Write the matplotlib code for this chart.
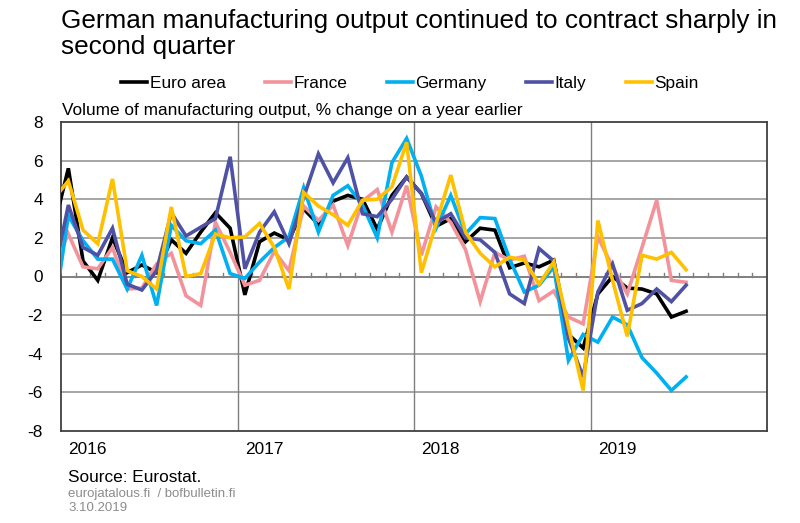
import matplotlib
matplotlib.use("Agg")
import matplotlib.pyplot as plt
import numpy as np
import pandas as pd

plt.rcParams['font.family'] = ['Liberation Sans', 'DejaVu Sans']

# Monthly data, Dec 2015 .. Jul 2019 (first point is clipped by the axis)
months = pd.period_range('2015-12', '2019-07', freq='M')

euro_area = [2.5,
             5.6, 0.8, -0.2, 2.0, 0.2, 0.6, 0.2, 1.9, 1.2, 2.3, 3.3, 2.5,
             -0.95, 1.8, 2.25, 1.9, 3.5, 2.7, 3.9, 4.2, 4.0, 2.45, 4.2, 5.15,
             4.3, 2.6, 3.0, 1.8, 2.5, 2.4, 0.45, 0.7, 0.5, 0.85, -3.0, -3.7,
             -0.9, 0.0, -0.6, -0.65, -0.9, -2.1, -1.8]
france = [0.5,
          2.2, 0.5, 0.4, 1.5, -0.65, -0.6, 0.65, 1.2, -1.0, -1.5, 2.8, 1.25,
          -0.45, -0.2, 1.3, 0.3, 3.65, 2.9, 3.7, 1.6, 3.9, 4.5, 2.3, 4.7,
          1.1, 3.6, 2.8, 1.4, -1.3, 1.25, 0.85, 1.05, -1.25, -0.75, -2.1, -2.45,
          2.05, 0.5, -0.9, 1.5, 3.95, -0.2, -0.3]
germany = [-2.0,
           3.15, 1.85, 0.9, 0.9, -0.65, 1.1, -1.5, 2.65, 1.85, 1.7, 2.4, 0.15,
           -0.1, 0.75, 1.5, 2.05, 4.6, 2.3, 4.2, 4.7, 3.7, 2.0, 5.9, 7.15,
           5.2, 2.5, 4.2, 2.2, 3.05, 3.0, 0.9, -0.8, -0.45, 0.5, -4.35, -3.0,
           -3.4, -2.1, -2.5, -4.2, -5.0, -5.9, -5.2]
italy = [0.0,
         3.7, 1.5, 1.1, 2.5, -0.4, -0.7, 0.3, 3.3, 2.1, 2.55, 3.0, 6.2,
         0.4, 2.3, 3.35, 1.7, 4.1, 6.35, 4.85, 6.15, 3.25, 3.1, 4.0, 5.15,
         4.3, 2.8, 3.25, 2.0, 1.9, 1.25, -0.9, -1.4, 1.45, 0.8, -3.2, -5.2,
         -0.8, 0.65, -1.75, -1.4, -0.65, -1.3, -0.45]
spain = [4.0,
         4.95, 2.4, 1.7, 5.05, 0.3, 0.0, -0.65, 3.6, 0.0, 0.15, 2.2, 2.0,
         2.05, 2.75, 1.5, -0.65, 4.35, 3.65, 3.2, 2.65, 3.95, 4.0, 4.65, 6.95,
         0.2, 2.75, 5.25, 2.3, 1.2, 0.5, 1.0, 0.85, -0.4, 0.75, -2.6, -5.9,
         2.9, -0.2, -3.1, 1.1, 0.9, 1.25, 0.35]

series_names = ['Euro area', 'France', 'Germany', 'Italy', 'Spain']
series_values = [euro_area, france, germany, italy, spain]
series_colors = ['#000000', '#F2939B', '#00B0F0', '#4F52A4', '#FFC000']

years = ['2016', '2017', '2018', '2019']
yticks = [8, 6, 4, 2, 0, -2, -4, -6, -8]

# x position: months since Jan 2016, at mid-month
start = pd.Period('2016-01', freq='M')
x = np.array([(m - start).n for m in months]) + 0.5

fig = plt.figure(figsize=(8, 5.23), dpi=100)
ax = fig.add_axes([61 / 800, 1 - 431 / 523, 706 / 800, 309 / 523])

ax.set_xlim(0, 48)
ax.set_ylim(-8, 8)

for yv in yticks:
    if yv in (8, -8):
        continue
    ax.axhline(yv, color='#A6A6A6' if yv != 0 else '#7F7F7F', lw=1.4, zorder=1)
for k in range(1, len(years)):
    ax.axvline(12 * k, color='#7F7F7F', lw=1.0, zorder=1)
# monthly ticks on the zero line
for k in range(1, 48):
    if k % 12 != 0:
        ax.plot([k, k], [0, 0.2], color='#7F7F7F', lw=1.0, zorder=1)

lines = []
for name, vals, col in zip(series_names, series_values, series_colors):
    ln, = ax.plot(x, vals, color=col, lw=2.6, label=name, zorder=3,
                  solid_joinstyle='miter', clip_on=True)
    lines.append(ln)

ax.set_yticks(yticks)
ax.set_yticklabels([str(v) for v in yticks], fontsize=12.4)
ax.tick_params(axis='y', length=0, pad=13)
ax.set_xticks([])
for sp in ax.spines.values():
    sp.set_color('#404040')
    sp.set_linewidth(1.3)

for i, yr in enumerate(years):
    ax.text(12 * i + 0.5, -8.95, yr, ha='left', va='center', fontsize=12.4)

fig.text(61 / 800, 1 - 34 / 523, 'German manufacturing output continued to contract sharply in\nsecond quarter',
         fontsize=18.8, ha='left', va='center', linespacing=1.15)
fig.legend(handles=lines, loc='center', bbox_to_anchor=(410 / 800, 1 - 83 / 523), ncol=5,
           frameon=False, fontsize=12.4, handlelength=1.5, handletextpad=0.15,
           columnspacing=2.3)
fig.text(62 / 800, 1 - 111 / 523, 'Volume of manufacturing output, % change on a year earlier',
         fontsize=12.4, ha='left', va='center')
fig.text(68 / 800, 1 - 477 / 523, 'Source: Eurostat.', fontsize=12.4, ha='left', va='center')
fig.text(68 / 800, 1 - 494 / 523, 'eurojatalous.fi  / bofbulletin.fi', fontsize=9.5,
         ha='left', va='center', color='#8C8C8C')
fig.text(68 / 800, 1 - 508 / 523, '3.10.2019', fontsize=9.5, ha='left', va='center', color='#8C8C8C')

fig.savefig('out.png', dpi=100)
